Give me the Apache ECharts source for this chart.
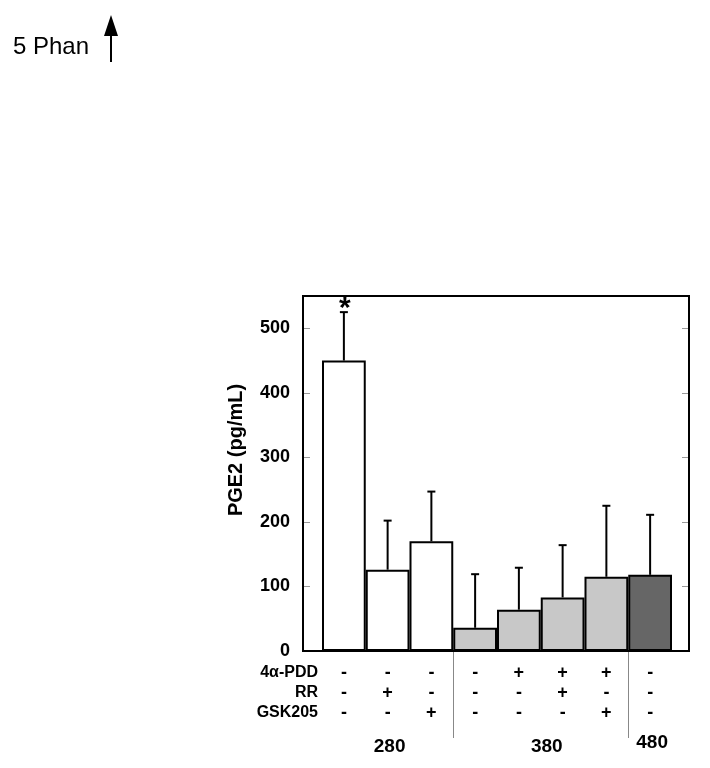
<!DOCTYPE html>
<html>
<head>
<meta charset="utf-8">
<script src="https://cdn.jsdelivr.net/npm/echarts@6/dist/echarts.min.js"></script>
<style>
html,body{margin:0;padding:0;background:#fff;}
#chart{width:710px;height:768px;}
</style>
</head>
<body>
<div id="chart"></div>
<script>
var categories = ['c1','c2','c3','c4','c5','c6','c7','c8'];
var means = [450, 126, 170, 36, 64, 83, 115, 118];
var errTops = [525, 202, 247, 119, 129, 164, 225, 211];
var significance = ['*', '', '', '', '', '', '', ''];
var barColors = ['#ffffff','#ffffff','#ffffff','#c8c8c8','#c8c8c8','#c8c8c8','#c8c8c8','#666666'];
var row4aPDD = ['-','-','-','-','+','+','+','-'];
var rowRR    = ['-','+','-','-','-','+','-','-'];
var rowGSK   = ['-','-','+','-','-','-','+','-'];
var rowNames = ['4\u03b1-PDD','RR','GSK205'];
var groupNames = ['280','380','480'];
var groupRanges = [[0,2],[3,6],[7,7]];
var yTicks = [0,100,200,300,400,500];

var FONT = 'Arial, "Liberation Sans", Helvetica, sans-serif';
var chart = echarts.init(document.getElementById('chart'));

var gridTop = 296, gridBottom = 117;

var option = {
  animation: false,
  backgroundColor: '#ffffff',
  grid: [
    {left: 303, right: 21, top: gridTop, bottom: gridBottom, show: true, borderColor: '#000', borderWidth: 2, backgroundColor: 'transparent', z: 5},
    {left: 322, right: 38, top: gridTop, bottom: gridBottom}
  ],
  xAxis: [
    {gridIndex: 0, type: 'value', min: 0, max: 1, show: false},
    {gridIndex: 1, type: 'category', data: categories,
     axisLine: {show: false}, axisTick: {show: false},
     axisLabel: {
       interval: 0, margin: 12,
       fontFamily: FONT, fontWeight: 'bold', fontSize: 18, lineHeight: 20, color: '#000',
       formatter: function (v, i) { return row4aPDD[i] + '\n' + rowRR[i] + '\n' + rowGSK[i]; }
     }}
  ],
  yAxis: [
    {gridIndex: 0, type: 'value', min: 0, max: 550, interval: 100, position: 'left',
     axisLine: {show: false}, splitLine: {show: false},
     axisTick: {show: true, inside: true, length: 7, lineStyle: {color: '#999', width: 1}},
     axisLabel: {showMaxLabel: false, margin: 13, fontFamily: FONT, fontWeight: 'bold', fontSize: 18, color: '#000'}},
    {gridIndex: 0, type: 'value', min: 0, max: 550, interval: 100, position: 'right',
     axisLine: {show: false}, splitLine: {show: false},
     axisTick: {show: true, inside: true, length: 7, lineStyle: {color: '#999', width: 1}},
     axisLabel: {show: false}},
    {gridIndex: 1, type: 'value', min: 0, max: 550, show: false}
  ],
  series: [
    {
      type: 'bar', xAxisIndex: 1, yAxisIndex: 2,
      barCategoryGap: 0, barGap: 0,
      data: means.map(function (v, i) {
        return {value: v, itemStyle: {color: barColors[i], borderColor: '#000', borderWidth: 2}};
      }),
      z: 2
    },
    {
      type: 'custom', xAxisIndex: 1, yAxisIndex: 2, z: 3,
      data: means.map(function (v, i) { return [i, v, errTops[i]]; }),
      renderItem: function (params, api) {
        var i = api.value(0);
        var base = api.coord([i, api.value(1)]);
        var top = api.coord([i, api.value(2)]);
        var cap = 4;
        var children = [
          {type: 'line', shape: {x1: base[0], y1: base[1], x2: top[0], y2: top[1]}, style: {stroke: '#000', lineWidth: 2}},
          {type: 'line', shape: {x1: top[0] - cap, y1: top[1], x2: top[0] + cap, y2: top[1]}, style: {stroke: '#000', lineWidth: 2}}
        ];
        if (significance[params.dataIndex]) {
          children.push({type: 'text', style: {text: significance[params.dataIndex], x: top[0] + 1, y: top[1] - 18,
            align: 'center', verticalAlign: 'top', font: 'bold 30px ' + FONT, fill: '#000'}});
        }
        return {type: 'group', children: children};
      }
    }
  ]
};
chart.setOption(option);

// Annotations positioned through the library's scales
var graphics = [];
var axisY = chart.convertToPixel({xAxisIndex: 1, yAxisIndex: 2}, [0, 0])[1];
function centerX(i) { return chart.convertToPixel({xAxisIndex: 1}, i); }
var half = (centerX(1) - centerX(0)) / 2;

// row labels
rowNames.forEach(function (name, r) {
  graphics.push({type: 'text', x: 318, y: axisY + 22 + r * 20,
    style: {text: name, align: 'right', verticalAlign: 'middle', font: 'bold 16px ' + FONT, fill: '#000'}});
});
// group labels and separators
groupRanges.forEach(function (g, k) {
  var cx = (centerX(g[0]) + centerX(g[1])) / 2;
  graphics.push({type: 'text', x: cx + (k === 1 ? 6 : 2), y: axisY + (k === 2 ? 92 : 96),
    style: {text: groupNames[k], align: 'center', verticalAlign: 'middle', font: 'bold 19px ' + FONT, fill: '#000'}});
  if (k > 0) {
    var sx = Math.round(centerX(g[0]) - half) + 0.5;
    graphics.push({type: 'line', shape: {x1: sx, y1: axisY, x2: sx, y2: axisY + 87}, style: {stroke: '#888', lineWidth: 1}});
  }
});
// y axis title
graphics.push({type: 'text', x: 236, y: 450, rotation: Math.PI / 2,
  style: {text: 'PGE2 (pg/mL)', align: 'center', verticalAlign: 'middle', font: 'bold 20px ' + FONT, fill: '#000'}});
// panel label with arrow
graphics.push({type: 'text', x: 13, y: 47,
  style: {text: '5 Phan', align: 'left', verticalAlign: 'middle', font: '24px ' + FONT, fill: '#000'}});
graphics.push({type: 'line', shape: {x1: 111, y1: 32, x2: 111, y2: 62}, style: {stroke: '#000', lineWidth: 2}});
graphics.push({type: 'polygon', shape: {points: [[111, 15], [104, 36], [118, 36]]}, style: {fill: '#000'}});

chart.setOption({graphic: graphics});
</script>
</body>
</html>
